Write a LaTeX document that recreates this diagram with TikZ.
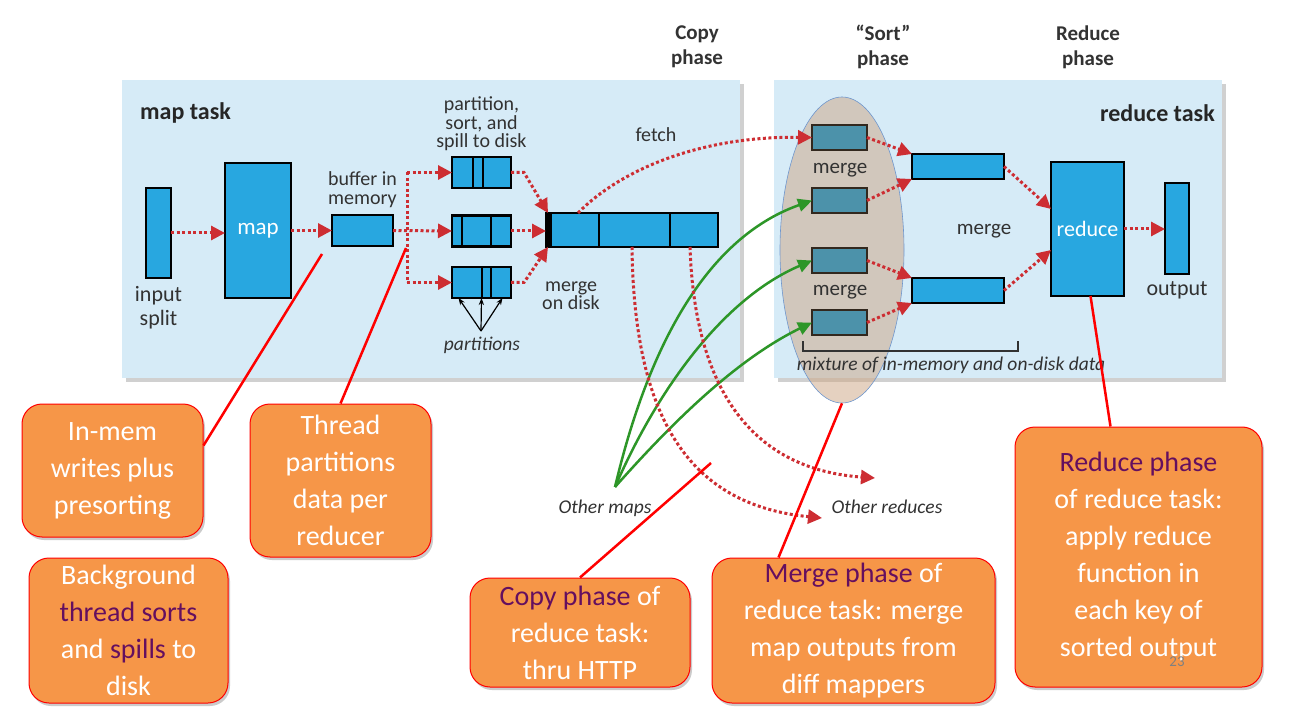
\documentclass[tikz,border=0pt]{standalone}
\usepackage{fontspec}
\setmainfont{Carlito}
\usetikzlibrary{positioning,arrows.meta,calc,shadows,shapes.geometric}
\definecolor{PanelBlue}{RGB}{214,235,247}
\definecolor{BoxBlue}{RGB}{40,167,224}
\definecolor{RunTeal}{RGB}{76,146,170}
\definecolor{RunEdge}{RGB}{50,40,30}
\definecolor{InkGray}{RGB}{50,50,50}
\definecolor{DotRed}{RGB}{205,45,50}
\definecolor{LeafGreen}{RGB}{45,150,40}
\definecolor{ZoneTan}{RGB}{205,165,130}
\definecolor{ZoneEdge}{RGB}{110,150,205}
\definecolor{CallOrange}{RGB}{246,150,72}
\definecolor{CallPurple}{RGB}{100,15,95}
\newcommand{\purp}[1]{\textcolor{CallPurple}{#1}}
\tikzset{
  panel/.style={fill=PanelBlue,draw=none,inner sep=0pt,
    drop shadow={shadow xshift=4pt,shadow yshift=-4pt,fill=black!30,opacity=.6}},
  block/.style={draw=black,fill=BoxBlue,line width=2.5pt,inner sep=0pt,outer sep=0pt,
    text=white,font=\fontsize{23}{23}\selectfont},
  runbox/.style={draw=RunEdge,fill=RunTeal,line width=2.5pt,inner sep=0pt,outer sep=0pt,
    minimum width=55pt,minimum height=25pt},
  divider/.style={draw=black,line width=2pt},
  lbl/.style={text=InkGray,align=center,inner sep=0pt,font=\fontsize{20}{19.5}\selectfont},
  ilbl/.style={lbl,font=\fontsize{19.5}{19.5}\selectfont\itshape},
  tasklbl/.style={text=black!85,inner sep=0pt,font=\fontsize{24}{24}\selectfont\bfseries},
  phaselbl/.style={text=black!80,align=center,inner sep=0pt,font=\fontsize{21}{25}\selectfont\bfseries},
  dotline/.style={draw=DotRed,line width=3pt,dash pattern=on 3pt off 2.5pt},
  dotflow/.style={dotline,-{Triangle[length=14pt,width=14pt]}},
  greenflow/.style={draw=LeafGreen,line width=2.5pt,-{Triangle[length=14pt,width=13pt]}},
  pointer/.style={draw=red,line width=2.5pt},
  callout/.style={fill=CallOrange,draw=red,line width=1pt,rounded corners=20pt,text=white,
    align=center,inner sep=0pt,font=\fontsize{28}{37}\selectfont,
    drop shadow={shadow xshift=2pt,shadow yshift=-3pt,fill=black!40,opacity=.5}}
}

\begin{document}
\begin{tikzpicture}[x=1pt,y=-1pt]
  \useasboundingbox (0,0) rectangle (1294,714);
  \fill[white] (0,0) rectangle (1294,714);

  % panels and titles
  \node[panel,minimum width=618pt,minimum height=298pt] (mappanel) at (431,229) {};
  \node[panel,minimum width=448pt,minimum height=298pt] (redpanel) at (998,229) {};
  \node[tasklbl,anchor=west] (maptitle) at (140,113) {map task};
  \node[tasklbl,anchor=east] (redtitle) at (1215,113) {reduce task};
  \node[phaselbl] (copyphase) at (697,47) {Copy\\phase};
  \node[phaselbl] (sortphase) at (883,47) {``Sort''\\phase};
  \node[phaselbl] (reducephase) at (1088,47) {Reduce\\phase};

  % map side
  \node[block,minimum width=25pt,minimum height=90pt] (input) at (158.5,233) {};
  \node[lbl,below=8pt of input,font=\fontsize{22}{24}\selectfont] (inputlbl) {input\\split};
  \node[block,minimum width=66pt,minimum height=135pt] (map) at (258,230.5) {map};
  \node[block,minimum width=61pt,minimum height=31pt] (buffer) at (362.5,230.5) {};
  \node[lbl,above=7pt of buffer] (bufferlbl) {buffer in\\memory};

  \node[block,minimum width=59pt,minimum height=31pt] (spillA) at (481.5,172.5) {};
  \node[block,minimum width=59pt,minimum height=31pt] (spillB) at (481.5,231) {};
  \node[block,minimum width=59pt,minimum height=31pt] (spillC) at (481.5,282.5) {};
  \foreach \dx in {21,31}
    \draw[divider] ([xshift=\dx pt]spillA.north west) -- ([xshift=\dx pt]spillA.south west);
  \foreach \dx in {10,39}
    \draw[divider] ([xshift=\dx pt]spillB.north west) -- ([xshift=\dx pt]spillB.south west);
  \foreach \dx in {30,39}
    \draw[divider] ([xshift=\dx pt]spillC.north west) -- ([xshift=\dx pt]spillC.south west);
  \node[lbl,above=6pt of spillA,font=\fontsize{20}{18.5}\selectfont] (spilllbl) {partition,\\sort, and\\spill to disk};

  \node[block,minimum width=172pt,minimum height=34pt] (disk) at (632,230) {};
  \foreach \dx in {53,124}
    \draw[divider] ([xshift=\dx pt]disk.north west) -- ([xshift=\dx pt]disk.south west);
  \fill[black] (disk.north west) rectangle ([xshift=6pt]disk.south west);
  \node[lbl,font=\fontsize{20}{17}\selectfont] (disklbl) at (571,296) {merge\\on disk};
  \node[lbl] (fetchlbl) at (656,135) {fetch};

  \node[ilbl] (partslbl) at (482,345) {partitions};
  \coordinate (partsrc) at (481,331);
  \foreach \dx in {-23,0,21}
    \draw[-{Stealth[length=7pt]},line width=1.2pt] (partsrc) -- ([xshift=\dx pt]spillC.south);

  % map side flows
  \draw[dotflow] (input.east) -- (input.east -| map.west);
  \draw[dotflow] (map.east) -- (buffer.west);
  \coordinate (forkA) at (407,172.5);
  \coordinate (forkC) at (407,282.5);
  \draw[dotline] (forkA) -- (forkC);
  \draw[dotflow] (forkA) -- (spillA.west);
  \draw[dotflow] (buffer.east) -- (spillB.west);
  \draw[dotflow] (forkC) -- (spillC.west);
  \draw[dotflow] (spillA.east) -- ++(13,0) -- ([xshift=2pt]disk.north west);
  \draw[dotflow] (spillB.east) -- (spillB.east -| disk.west);
  \draw[dotflow] (spillC.east) -- ++(13,0) -- ([xshift=2pt]disk.south west);

  % reduce side
  \node[ellipse,fill=ZoneTan,fill opacity=.5,draw=ZoneEdge,line width=.6pt,
    minimum width=124pt,minimum height=306pt,inner sep=0pt] (sortzone) at (842,250) {};
  \node[runbox] (runA) at (839.5,137.5) {};
  \node[runbox] (runB) at (839.5,200.5) {};
  \node[runbox] (runC) at (839.5,260.5) {};
  \node[runbox] (runD) at (839.5,322.5) {};
  \node[lbl,font=\fontsize{21}{21}\selectfont] (mergelblA) at (840,170) {merge};
  \node[lbl,font=\fontsize{21}{21}\selectfont] (mergelblB) at (840,292) {merge};
  \node[block,minimum width=92pt,minimum height=25pt] (mergedA) at (958,166.5) {};
  \node[block,minimum width=92pt,minimum height=25pt] (mergedB) at (958,290.5) {};
  \node[lbl,font=\fontsize{21}{21}\selectfont] (mergelblC) at (984,231) {merge};
  \node[block,minimum width=73pt,minimum height=134pt,font=\fontsize{22}{22}\selectfont] (reduce) at (1087.5,229) {reduce};
  \node[block,minimum width=24pt,minimum height=91pt] (output) at (1177,228.5) {};
  \node[lbl,below=7pt of output,font=\fontsize{22}{22}\selectfont] (outputlbl) {output};
  \draw[line width=1.5pt,draw=InkGray] (803,341) -- (803,351) -- (1018,351) -- (1018,341);
  \node[ilbl] (mixlbl) at (951,365) {mixture of in-memory and on-disk data};

  \draw[dotflow] (runA.east) -- (mergedA.north west);
  \draw[dotflow] (runB.east) -- (mergedA.south west);
  \draw[dotflow] (runC.east) -- (mergedB.north west);
  \draw[dotflow] (runD.east) -- (mergedB.south west);
  \draw[dotflow] (mergedA.east) -- ([yshift=20pt]reduce.west);
  \draw[dotflow] (mergedB.east) -- ([yshift=-21pt]reduce.west);
  \draw[dotflow] (reduce.east) -- (reduce.east -| output.west);

  % other maps / other reduces
  \node[ilbl] (othermaps) at (605,508) {Other maps};
  \node[ilbl] (otherred) at (887,507) {Other reduces};
  \coordinate (mapsrc) at (615,487);
  \coordinate (toredA) at (875,478);
  \coordinate (toredB) at (822,518);
  \draw[greenflow] (mapsrc) .. controls (645,360) and (700,240) .. (runB.west);
  \draw[greenflow] (mapsrc) .. controls (655,395) and (720,300) .. (runC.west);
  \draw[greenflow] (mapsrc) .. controls (670,425) and (735,360) .. (runD.west);
  \draw[dotflow] ([xshift=-54pt]disk.north) .. controls (620,170) and (700,136) .. (runA.west);
  \draw[dotflow] (disk.south) .. controls (634,420) and (690,505) .. (toredB);
  \draw[dotflow] ([xshift=58pt]disk.south) .. controls (695,400) and (760,470) .. (toredA);

  % callouts
  \node[callout,minimum width=181pt,minimum height=133pt] (inmem) at (112.5,470.5)
    {In-mem\\writes plus\\presorting};
  \node[callout,minimum width=181pt,minimum height=153pt] (threadpart) at (340.5,480.5)
    {Thread\\partitions\\data per\\reducer};
  \node[callout,minimum width=199pt,minimum height=145pt] (background) at (128.5,630.5)
    {Background\\\purp{thread sorts}\\and \purp{spills} to\\disk};
  \node[callout,minimum width=220pt,minimum height=109pt] (copycall) at (580,632.5)
    {\purp{Copy phase} of\\reduce task:\\thru HTTP};
  \node[callout,minimum width=283pt,minimum height=145pt] (mergecall) at (853.5,630.5)
    {\purp{Merge phase} of\\reduce task: merge\\map outputs from\\diff mappers};
  \node[callout,minimum width=247pt,minimum height=260pt] (reducecall) at (1138.5,557)
    {\purp{Reduce phase}\\of reduce task:\\apply reduce\\function in\\each key of\\sorted output};
  \node[text=gray,inner sep=0pt,font=\fontsize{15}{15}\selectfont] (slideno) at (1177,662) {23};

  \coordinate (bufnote) at (322,254);
  \coordinate (forknote) at (406,248);
  \coordinate (copynote) at (711,463);
  \draw[pointer] ([yshift=25pt]inmem.east) -- (bufnote);
  \draw[pointer] (threadpart.north) -- (forknote);
  \draw[pointer] (copycall.north) -- (copynote);
  \draw[pointer] ([xshift=-75pt]mergecall.north) -- (sortzone.south);
  \draw[pointer] ([xshift=-28pt]reducecall.north) -- ([xshift=3pt]reduce.south);
\end{tikzpicture}
\end{document}
